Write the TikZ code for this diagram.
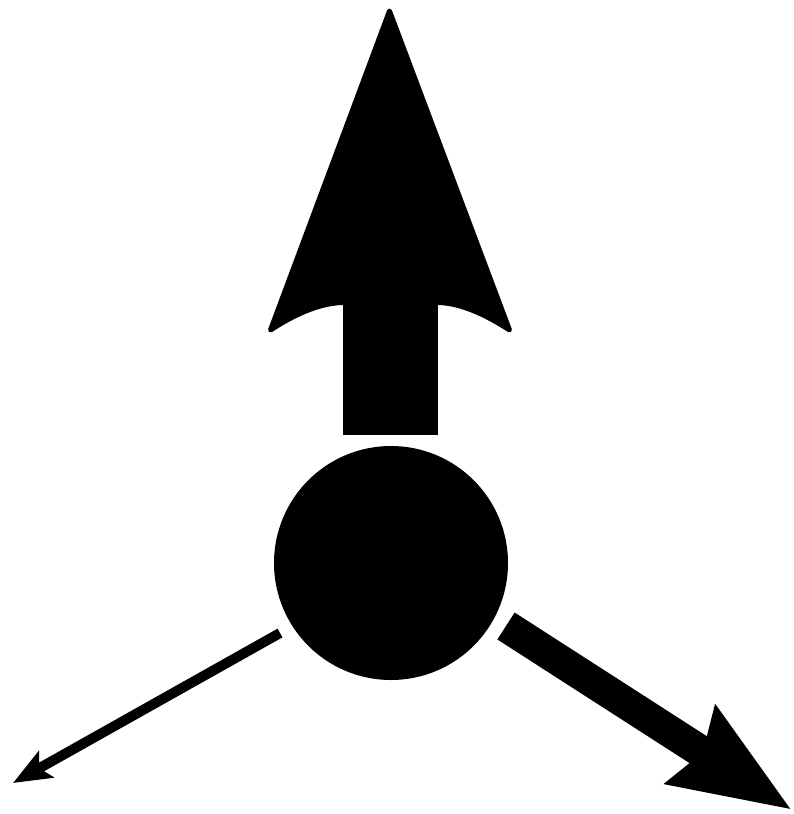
\documentclass[tikz,border=0pt]{standalone}
\usetikzlibrary{arrows.meta}
\begin{document}
\begin{tikzpicture}[x=1pt,y=-1pt]
\useasboundingbox (0,0) rectangle (793,814);
\tikzset{
  headstyle/.style={fill=black,draw=black,line width=5pt,line join=round},
}
% central disc
\node[circle,fill=black,minimum size=234pt,inner sep=0pt] (hub) at (391,563) {};
% up arrow
\coordinate (ushaftL) at (343,435);
\coordinate (ushaftR) at (438,300);
\coordinate (utip) at (389.5,11);
\coordinate (uleft) at (270.5,330);
\coordinate (uright) at (509.5,330);
\fill (ushaftL) rectangle (ushaftR);
\path[headstyle] (uleft) -- (utip) -- (uright)
  .. controls (488,316) and (462,303) .. (438,302.5) -- (343,302.5)
  .. controls (318,303) and (292,316) .. cycle;
% lower left thin arrow
\coordinate (lstart) at (280,633);
\coordinate (ltip) at (13,783);
\draw[line width=10pt,-{Stealth[length=38pt,width=30pt,inset=8pt]}] (lstart) -- (ltip);
% lower right thick arrow
\coordinate (rstart) at (506,626);
\coordinate (rtip) at (792,810);
\draw[line width=32pt,-{Stealth[length=118pt,width=88pt,inset=12pt]}] (rstart) -- (rtip);
\end{tikzpicture}
\end{document}
